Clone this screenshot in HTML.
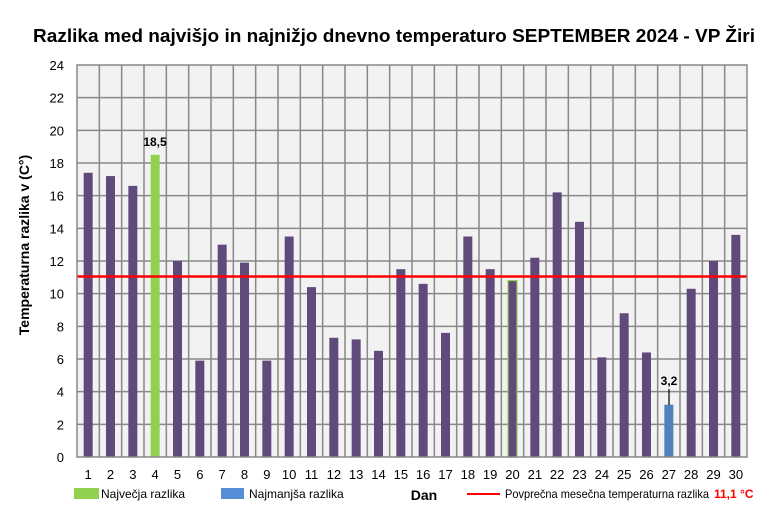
<!DOCTYPE html>
<html><head><meta charset="utf-8"><style>
html,body{margin:0;padding:0;background:#fff;}
svg{display:block;font-family:"Liberation Sans",sans-serif;}
</style></head><body>
<svg width="770" height="511" xmlns="http://www.w3.org/2000/svg">
<rect width="770" height="511" fill="#fff"/>
<text x="394" y="42" text-anchor="middle" font-size="18" font-weight="bold" textLength="722" lengthAdjust="spacingAndGlyphs">Razlika med najvišjo in najnižjo dnevno temperaturo SEPTEMBER 2024 - VP Žiri</text>
<rect x="77" y="65" width="670" height="392" fill="#f2f2f2"/>
<g id="grid" stroke="#888" stroke-width="1.5" fill="none"></g>
<g id="bars"></g>
<line x1="77" y1="276.5" x2="747" y2="276.5" stroke="#ff0000" stroke-width="2.5"/>
<rect x="77" y="65" width="670" height="392" fill="none" stroke="#888" stroke-width="1.5"/>
<g id="ylab" font-size="13" text-anchor="end"></g>
<g id="xlab" font-size="13" text-anchor="middle"></g>
<text x="155" y="146" font-size="12" font-weight="bold" text-anchor="middle">18,5</text>
<text x="669" y="385" font-size="12" font-weight="bold" text-anchor="middle">3,2</text>
<line x1="669" y1="389" x2="669" y2="405" stroke="#000" stroke-width="1.2"/>
<text transform="translate(29,245) rotate(-90)" font-size="14" font-weight="bold" text-anchor="middle">Temperaturna razlika v (C°)</text>
<rect x="74" y="488" width="25" height="11" fill="#92d050"/>
<text x="101" y="498" font-size="12">Največja razlika</text>
<rect x="221" y="488" width="23" height="11" fill="#558ed5"/>
<text x="249" y="498" font-size="12">Najmanjša razlika</text>
<text x="424" y="500" font-size="14" font-weight="bold" text-anchor="middle">Dan</text>
<line x1="467" y1="494" x2="500" y2="494" stroke="#ff0000" stroke-width="2"/>
<text x="505" y="498" font-size="12" textLength="204" lengthAdjust="spacingAndGlyphs">Povprečna mesečna temperaturna razlika</text>
<text x="714" y="498" font-size="12" font-weight="bold" fill="#ff0000">11,1 °C</text>
</svg>
<script>
var NS="http://www.w3.org/2000/svg";
function el(p,t,a,txt){var e=document.createElementNS(NS,t);for(var k in a)e.setAttribute(k,a[k]);if(txt!=null)e.textContent=txt;document.getElementById(p).appendChild(e);}
var L=77,R=747,T=65,B=457,cw=(R-L)/30,u=(B-T)/24;
for(var v=2;v<24;v+=2){var y=B-v*u;el("grid","line",{x1:L,x2:R,y1:y,y2:y});}
for(var k=1;k<30;k++){var x=L+k*cw;el("grid","line",{x1:x,x2:x,y1:T,y2:B});}
for(var v=0;v<=24;v+=2){el("ylab","text",{x:64,y:B-v*u+5},v);}
var d=[17.4,17.2,16.6,18.5,12,5.9,13,11.9,5.9,13.5,10.4,7.3,7.2,6.5,11.5,10.6,7.6,13.5,11.5,10.8,12.2,16.2,14.4,6.1,8.8,6.4,3.2,10.3,12,13.6];
for(var i=0;i<30;i++){var c=L+cw*(i+0.5),h=d[i]*u;
var f="#604a7b",a={x:c-4.5,y:B-h,width:9,height:h,fill:f};
if(i==3)a.fill="#92d050";if(i==26)a.fill="#4f81bd";
if(i==19){a.stroke="#92d050";a["stroke-width"]=1.2;}
el("bars","rect",a);
el("xlab","text",{x:c,y:479},i+1);}
</script>
</body></html>
